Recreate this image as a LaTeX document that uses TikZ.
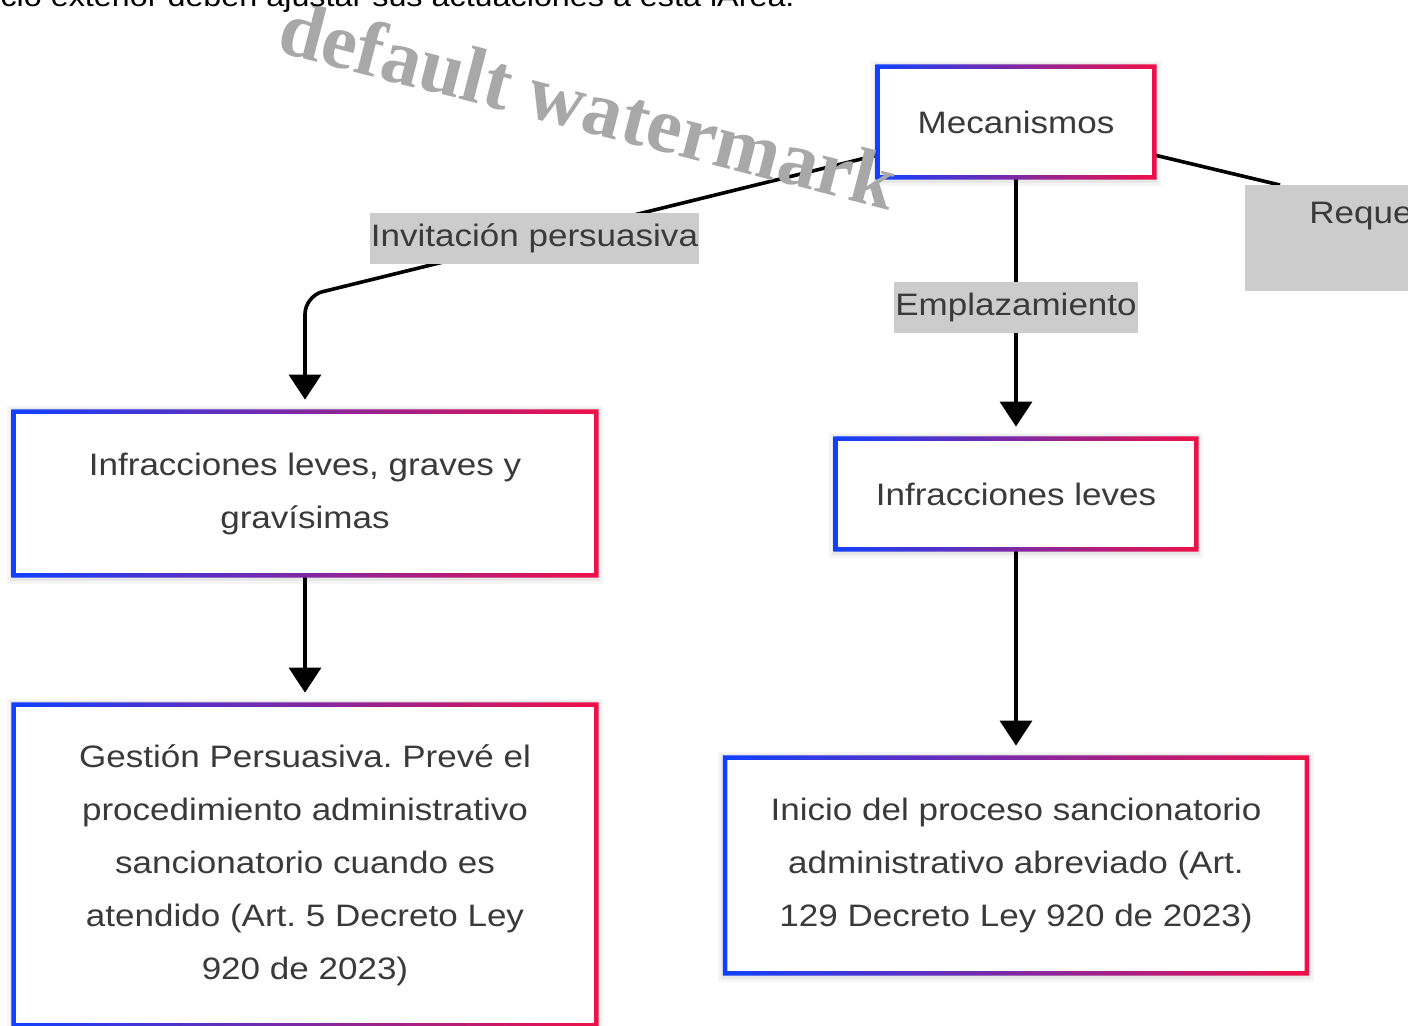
\documentclass[tikz,border=0pt]{standalone}
\usepackage{fontspec}
\setmainfont{Liberation Sans}[FakeStretch=1.13]
\newfontfamily\wmfont{Liberation Serif}
\usetikzlibrary{arrows.meta,backgrounds}
\definecolor{gblue}{RGB}{16,64,255}
\definecolor{gred}{RGB}{240,16,72}
\definecolor{txt}{RGB}{58,58,58}
\definecolor{lblc}{RGB}{204,204,204}
\definecolor{wmc}{RGB}{168,168,168}
\frenchspacing
\begin{document}
\begin{tikzpicture}[x=0.5pt,y=-0.5pt,
  box/.style={rectangle, fill=white, text=txt, align=center, inner sep=0pt,
    font=\fontsize{15.5}{26.5}\selectfont},
  lbl/.style={rectangle, fill=lblc, text=txt, inner sep=0pt,
    font=\fontsize{15.5}{26.5}\selectfont},
  conn/.style={draw=black, line width=1.8pt},
  arr/.style={conn, -{Triangle[width=16pt,length=12.5pt]}, shorten >=6pt}]
\useasboundingbox (0,0) rectangle (1408,1025);

% boxes
\node[box, minimum width=138pt, minimum height=55pt] (mec) at (1016,122) {Mecanismos};
\node[box, minimum width=291pt, minimum height=81.5pt] (b1) at (305,493.5)
  {Infracciones leves, graves y\\gravísimas};
\node[box, minimum width=291pt, minimum height=160pt] (b2) at (305,865)
  {Gestión Persuasiva. Prevé el\\procedimiento administrativo\\sancionatorio cuando es\\atendido (Art. 5 Decreto Ley\\920 de 2023)};
\node[box, minimum width=180pt, minimum height=55pt] (r1) at (1016,494) {Infracciones leves};
\node[box, minimum width=290.5pt, minimum height=107.5pt] (r2) at (1016,865.5)
  {Inicio del proceso sancionatorio\\administrativo abreviado (Art.\\129 Decreto Ley 920 de 2023)};

% background and shadows
\begin{scope}[on background layer]
  \fill[white] (0,0) rectangle (1408,1025);
  \foreach \n in {mec,b1,b2,r1,r2}{
    \fill[black,opacity=0.04] ([shift={(-3.5pt,3pt)}]\n.north west) rectangle ([shift={(3.5pt,-4.5pt)}]\n.south east);
    \fill[black,opacity=0.05] ([shift={(-2pt,2pt)}]\n.north west) rectangle ([shift={(2pt,-3pt)}]\n.south east);
  }
\end{scope}

% connectors
\coordinate (bend) at (305,296);
\coordinate (reqtop) at (1280,185);
\draw[arr, rounded corners=9pt] ([yshift=-16.5pt]mec.west) -- (bend) -- (b1.north);
\draw[conn] ([yshift=-16.5pt]mec.east) -- (reqtop);
\draw[arr] (mec.south) -- (r1.north);
\draw[arr] (b1.south) -- (b2.north);
\draw[arr] (r1.south) -- (r2.north);

% labels
\node[lbl, minimum width=164.5pt, minimum height=25.5pt] (linv) at (534.5,238.5) {Invitación persuasiva};
\node[lbl, minimum width=122pt, minimum height=25.5pt] (lemp) at (1016,307.5) {Emplazamiento};
\node[lbl, anchor=north west, minimum width=90pt, minimum height=53pt] (lreq) at (1245,185) {};
\node[anchor=base west, inner sep=0pt, text=txt, font=\fontsize{15.5}{26.5}\selectfont] (lreqt) at (1309,223) {Reque};

% gradient borders
\foreach \n in {mec,b1,b2,r1,r2}{
  \shade[left color=gblue, right color=gred, even odd rule]
    ([shift={(-1.1pt,1.1pt)}]\n.north west) rectangle ([shift={(1.1pt,-1.1pt)}]\n.south east)
    ([shift={(1.1pt,-1.1pt)}]\n.north west) rectangle ([shift={(-1.1pt,1.1pt)}]\n.south east);
}

% watermark
\node[font=\wmfont\bfseries\fontsize{39.5}{40}\selectfont, text=wmc, rotate=-14.5, anchor=base, inner sep=0pt] (wmk) at (582,131) {default watermark};

% top text
\node[anchor=base east, inner sep=0pt, text=black, font=\fontsize{14.3}{16}\selectfont] (toptext) at (795,6) {cio exterior deben ajustar sus actuaciones a esta iÁrea.};
\end{tikzpicture}
\end{document}
